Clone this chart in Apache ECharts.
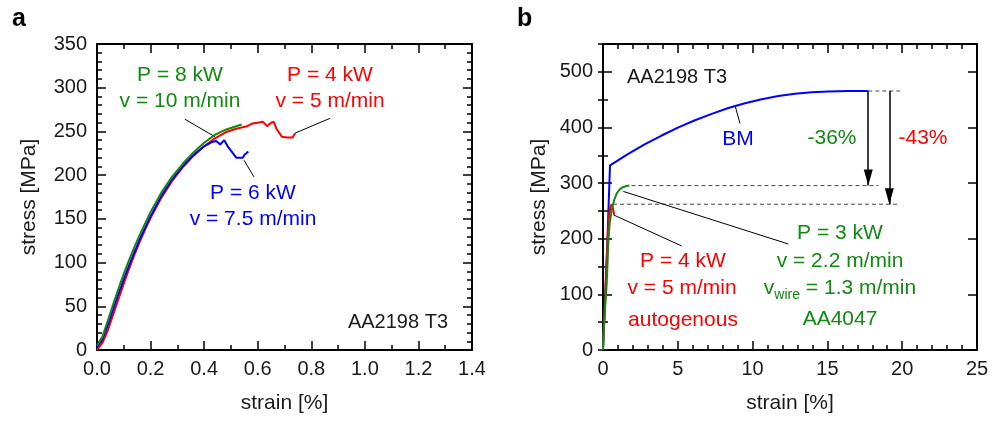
<!DOCTYPE html>
<html><head><meta charset="utf-8">
<script src="https://cdn.jsdelivr.net/npm/echarts@6/dist/echarts.min.js"></script>
<style>html,body{margin:0;padding:0;background:#fff}#c{width:1003px;height:421px}</style>
</head><body><div id="c"></div>
<script>
// ---------- Panel a data (strain %, stress MPa) ----------
const aRed = [[0,0],[0.02,8],[0.04,22],[0.06,40],[0.08,58],[0.10,76],[0.12,93],[0.14,109],[0.16,124],[0.18,138],[0.20,151],[0.24,174],[0.28,193],[0.32,209],[0.36,222],[0.40,233],[0.44,242],[0.48,249],[0.52,253],[0.56,256],[0.58,259],[0.60,260],[0.62,261],[0.635,256],[0.65,260],[0.66,261],[0.67,253],[0.69,244],[0.71,243],[0.73,243],[0.74,248]];
const aBlue = [[0,3],[0.02,12],[0.04,28],[0.06,46],[0.08,64],[0.10,81],[0.12,97],[0.14,112],[0.16,127],[0.18,140],[0.20,153],[0.24,176],[0.28,195],[0.32,210],[0.36,223],[0.40,233],[0.43,238],[0.445,239],[0.46,235],[0.475,240],[0.49,232],[0.51,224],[0.52,220],[0.545,220],[0.55,223],[0.565,227]];
const aGreen = [[0,5],[0.02,15],[0.04,33],[0.06,52],[0.08,70],[0.10,87],[0.12,103],[0.14,118],[0.16,132],[0.18,145],[0.20,158],[0.24,180],[0.28,198],[0.32,213],[0.36,226],[0.40,237],[0.44,246],[0.48,252],[0.52,256],[0.54,258]];
const aLeaders = [[[0.328,264],[0.44,244]], [[0.87,265],[0.739,248]], [[0.549,217],[0.586,198]]];

// ---------- Panel b data ----------
const bBlue = [[0,0],[0.15,100],[0.3,200],[0.4,280],[0.47,332],[1.69,352.5],[2.81,370],[3.92,385.5],[5.04,400],[6.15,413],[7.27,424.5],[8.38,435],[9.49,443.5],[10.61,450.6],[11.72,456.5],[12.83,460.7],[13.95,463.2],[15.06,464.5],[16.4,465.3],[17.73,465.5]];
const bRed = [[0,0],[0.1,60],[0.2,130],[0.3,195],[0.4,240],[0.5,258],[0.58,262],[0.65,257],[0.75,243]];
const bGreen = [[0,0],[0.02,24],[0.15,80],[0.25,120],[0.31,160],[0.36,198],[0.45,228],[0.58,252],[0.75,270],[0.92,281.6],[1.1,288],[1.25,291.7],[1.5,294.2],[1.76,295.5]];
const bLeaders = [[[8.82,440],[9.16,407]], [[0.69,243],[5.26,187]], [[1.36,285],[12.39,190.5]]];
const bDashed = [[[17.73,465.5],[19.85,465.5]], [[1.9,295.5],[18.4,295.5]], [[0.67,262],[19.85,262]]];
const bArrows = [[17.73,465.5,295.5],[19.14,465.5,262]];

// ---------- Axis ticks ----------
const aXTicks = {min:0, max:1.4, interval:0.2};
const aYTicks = {min:0, max:350, interval:50};
const bXTicks = {min:0, max:25, interval:5};
const bYTicks = {min:0, max:550, interval:100, minor:50};

const GREEN = '#108a10', RED = '#ff0000', BLUE = '#0000ff';
const FONT = '"Liberation Sans", Arial, sans-serif';
const chart = echarts.init(document.getElementById('c'), null, {renderer:'canvas'});

function ax(kind, grid, t, opts) {
  return Object.assign({
    type:'value', gridIndex:grid, min:t.min, max:t.max, interval:t.interval,
    axisLine:{show:true, onZero:false, lineStyle:{color:'#000', width:2}},
    axisTick:{show:true, inside:true, length:9, lineStyle:{color:'#000', width:1.5}},
    splitLine:{show:false},
    axisLabel:{show:false}
  }, opts || {});
}
const lbl = (fmt, margin) => ({show:true, color:'#1a1a1a', fontSize:20, fontFamily:FONT, margin:margin, formatter:fmt});
const nm = (name, gap) => ({name:name, nameLocation:'middle', nameGap:gap, nameTextStyle:{fontSize:21, fontFamily:FONT, color:'#1a1a1a'}});
const mt = n => ({show:true, splitNumber:n, length:5, lineStyle:{color:'#000', width:1.5}});

const xAxes = [
  ax('x',0,aXTicks,Object.assign({position:'bottom', axisLabel:lbl(v=>v.toFixed(1),9), minorTick:mt(2)}, nm('strain [%]',43))),
  ax('x',0,aXTicks,{position:'top', minorTick:mt(2)}),
  ax('x',1,bXTicks,Object.assign({position:'bottom', axisLabel:lbl(v=>String(v),9), minorTick:mt(5)}, nm('strain [%]',43))),
  ax('x',1,bXTicks,{position:'top', minorTick:mt(5)})
];
const yAxes = [
  ax('y',0,aYTicks,Object.assign({position:'left', axisLabel:lbl(v=>String(v),10), minorTick:mt(5)}, nm('stress [MPa]',57))),
  ax('y',0,aYTicks,{position:'right', minorTick:mt(5)}),
  ax('y',1,bYTicks,Object.assign({position:'left', axisLabel:Object.assign(lbl(v=>(v%100===0?String(v):''),10),{showMaxLabel:false})}, nm('stress [MPa]',53))),
  ax('y',1,{min:0,max:550,interval:bYTicks.minor},{position:'left', axisLine:{show:false}, axisTick:{show:true,inside:true,length:5,lineStyle:{color:'#000',width:1.5}}}),
  ax('y',1,bYTicks,{position:'right'}),
  ax('y',1,{min:0,max:550,interval:bYTicks.minor},{position:'right', axisLine:{show:false}, axisTick:{show:true,inside:true,length:5,lineStyle:{color:'#000',width:1.5}}})
];

function curve(data, color, xi, yi, z) {
  return {type:'line', data:data, xAxisIndex:xi, yAxisIndex:yi, showSymbol:false, symbol:'none', silent:true, z:z||2,
    lineStyle:{color:color, width:2}, animation:false};
}
function thin(data, xi, yi, style) {
  return {type:'line', data:data, xAxisIndex:xi, yAxisIndex:yi, showSymbol:false, symbol:'none', silent:true, z:1,
    lineStyle:Object.assign({color:'#000', width:1}, style||{}), animation:false};
}

const series = [
  curve(aRed, RED, 0, 0, 3), curve(aBlue, BLUE, 0, 0, 4), curve(aGreen, GREEN, 0, 0, 5),
  ...aLeaders.map(l => thin(l, 0, 0)),
  ...bDashed.map(l => thin(l, 2, 2, {color:'#444', type:[4,3]})),
  ...bLeaders.map(l => thin(l, 2, 2)),
  curve(bBlue, BLUE, 2, 2, 3),
  curve(bRed, RED, 2, 2, 4), curve(bGreen, GREEN, 2, 2, 5),
  {type:'line', data:[], xAxisIndex:2, yAxisIndex:2, silent:true, animation:false,
   markLine:{silent:true, animation:false, symbol:['none','triangle'], symbolSize:[9,16], symbolOffset:[0,[0,8]],
     label:{show:false}, lineStyle:{color:'#000', width:1.5, type:'solid'},
     data: bArrows.map(a => [{coord:[a[0],a[1]]},{coord:[a[0],a[2]]}])}}
];

const txt = (x, y, text, color, size, extra) => ({type:'text', x:x, y:y, silent:true, z:100,
  style:Object.assign({text:text, fill:color, font:(size||21)+'px '+FONT, align:'center', verticalAlign:'middle'}, extra||{})});

const graphic = [
  txt(12, 19, 'a', '#000', 24, {font:'bold 25px '+FONT, align:'left'}),
  txt(517, 19, 'b', '#000', 24, {font:'bold 25px '+FONT, align:'left'}),
  txt(180, 75, 'P = 8 kW', GREEN), txt(180, 101, 'v = 10 m/min', GREEN),
  txt(330, 75, 'P = 4 kW', RED), txt(330, 101, 'v = 5 m/min', RED),
  txt(253, 193, 'P = 6 kW', BLUE), txt(253, 219, 'v = 7.5 m/min', BLUE),
  txt(448, 322, 'AA2198 T3', '#1a1a1a', 20, {align:'right'}),
  txt(627, 77, 'AA2198 T3', '#1a1a1a', 20, {align:'left'}),
  txt(738, 139, 'BM', BLUE),
  txt(832, 138, '-36%', GREEN), txt(923, 138, '-43%', RED),
  txt(683, 261, 'P = 4 kW', RED), txt(682, 288, 'v = 5 m/min', RED), txt(683, 320, 'autogenous', RED),
  txt(840, 233, 'P = 3 kW', GREEN), txt(840, 261, 'v = 2.2 m/min', GREEN),
  {type:'text', x:840, y:288, silent:true, z:100, style:{text:'{a|v}{b|wire}{a| = 1.3 m/min}', align:'center', verticalAlign:'middle',
     rich:{a:{fontSize:21, fontFamily:FONT, fill:GREEN, lineHeight:28, verticalAlign:'middle'},
           b:{fontSize:14, fontFamily:FONT, fill:GREEN, lineHeight:14, verticalAlign:'bottom'}}}},
  txt(840, 319, 'AA4047', GREEN)
];

chart.setOption({
  animation:false,
  backgroundColor:'#fff',
  grid:[{left:97, top:44, width:375, height:306, containLabel:false},
        {left:603, top:44, width:374, height:306, containLabel:false}],
  xAxis:xAxes, yAxis:yAxes, series:series, graphic:graphic
});
</script></body></html>
